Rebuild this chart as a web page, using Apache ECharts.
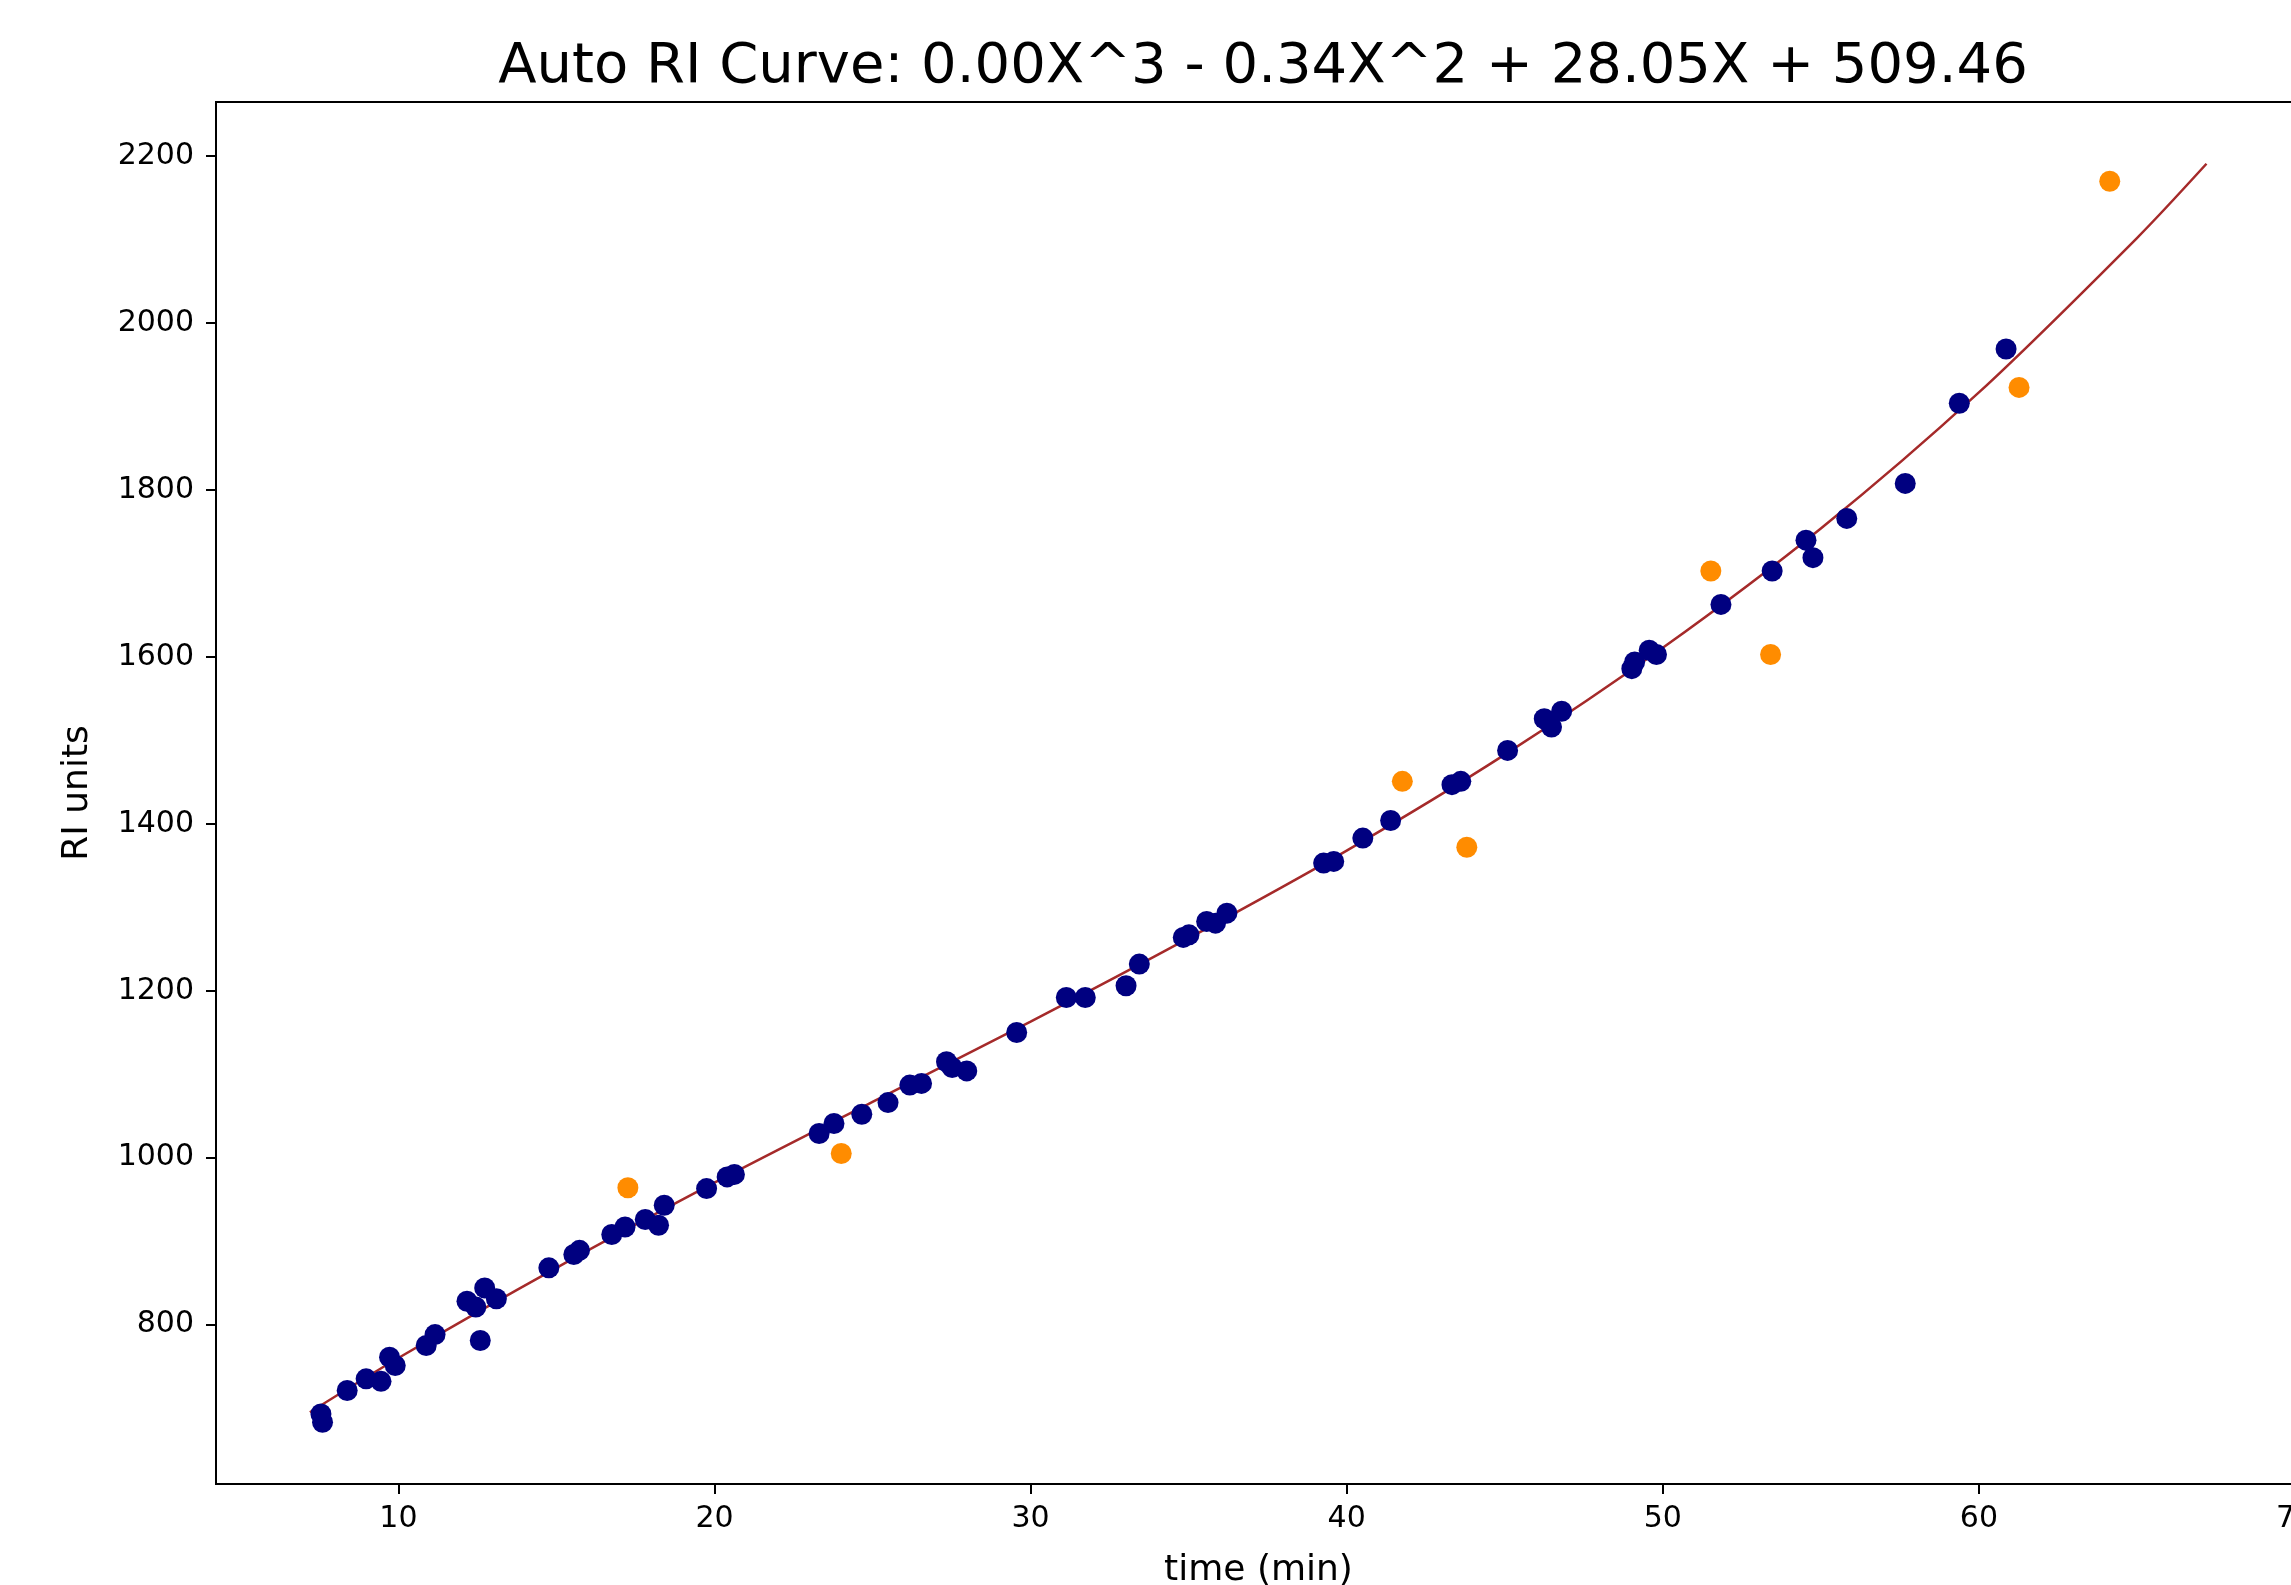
<!DOCTYPE html>
<html>
<head>
<meta charset="utf-8">
<script src="https://cdn.jsdelivr.net/npm/echarts@6/dist/echarts.min.js"></script>
<style>
  html, body { margin: 0; padding: 0; background: #fff; overflow: hidden; }
  #chart { width: 2291px; height: 1585px; }
</style>
</head>
<body>
<div id="chart"></div>
<script>
// retention time (min) and RI for the calibration compounds
const fitTimes = [7.55, 7.6, 8.38, 8.98, 9.45, 9.72, 9.9, 10.88, 11.16, 12.17, 12.45, 12.73, 12.59, 13.1,
  14.76, 15.55, 15.73, 16.75, 17.17, 17.81, 18.23, 18.41, 19.75, 20.4, 20.63, 23.31, 23.78, 24.66,
  25.49, 26.18, 26.55, 27.34, 27.52, 27.98, 29.56, 31.13, 31.73, 33.02, 33.44, 34.83, 35.01, 35.57,
  35.85, 36.21, 39.27, 39.59, 40.51, 41.39, 43.33, 43.61, 45.09, 46.25, 46.48, 46.8, 49.02, 49.11,
  49.57, 49.8, 51.84, 53.46, 54.53, 54.75, 55.82, 57.67, 59.38, 60.86];
const fitRI = [693, 683, 721, 735, 732, 761, 751, 775, 788, 828, 821, 844, 781, 831,
  868, 884, 889, 908, 917, 926, 919, 943, 963, 977, 980, 1029, 1041, 1052,
  1066, 1087, 1089, 1115, 1108, 1104, 1150, 1192, 1192, 1206, 1232, 1264, 1267, 1283,
  1281, 1293, 1353, 1355, 1383, 1404, 1447, 1451, 1488, 1526, 1516, 1535, 1586, 1594,
  1608, 1603, 1663, 1703, 1740, 1719, 1766, 1808, 1904, 1969];

// points left out of the fit
const outlierTimes = [17.26, 24.01, 41.76, 43.8, 51.52, 53.41, 61.27, 64.14];
const outlierRI = [964, 1005, 1451, 1372, 1703, 1603, 1923, 2170];

// fitted curve
const curveTimes = [7.2, 10, 15, 20, 25, 30, 35, 40, 45, 50, 55, 60, 65, 67.2];
const curveRI = [695, 760, 868, 970, 1067, 1163, 1263, 1368, 1483, 1611, 1754, 1917, 2102, 2191];

const xTicks = [10, 20, 30, 40, 50, 60, 70];
const yTicks = [800, 1000, 1200, 1400, 1600, 1800, 2000, 2200];

const titleText = 'Auto RI Curve: 0.00X^3 - 0.34X^2 + 28.05X + 509.46';

const font = 'DejaVu Sans';
const chart = echarts.init(document.getElementById('chart'));

const pairs = (xs, ys) => xs.map((x, i) => [x, ys[i]]);

chart.setOption({
  animation: false,
  backgroundColor: '#fff',
  title: {
    text: titleText,
    left: 1258,
    textAlign: 'center',
    top: 34,
    textStyle: { fontFamily: font, fontSize: 56, fontWeight: 'normal', color: '#000' }
  },
  grid: {
    left: 216, top: 102, width: 2085, height: 1382,
    outerBoundsMode: 'none',
    containLabel: false,
    show: true, borderColor: '#000', borderWidth: 2, backgroundColor: 'transparent'
  },
  xAxis: {
    type: 'value',
    min: 4.23,
    max: 70.19,
    name: 'time (min)',
    nameLocation: 'middle',
    nameGap: 69,
    nameTextStyle: { fontFamily: font, fontSize: 36, color: '#000' },
    axisLine: { show: true, onZero: false, lineStyle: { color: '#000', width: 2 } },
    axisTick: { show: true, length: 10, customValues: xTicks, lineStyle: { color: '#000', width: 2 } },
    axisLabel: { customValues: xTicks, margin: 20, fontFamily: font, fontSize: 30, color: '#000' },
    splitLine: { show: false }
  },
  yAxis: {
    type: 'value',
    min: 609,
    max: 2265,
    name: 'RI units',
    nameLocation: 'middle',
    nameGap: 120,
    nameRotate: 90,
    nameTextStyle: { fontFamily: font, fontSize: 36, color: '#000' },
    axisLine: { show: true, onZero: false, lineStyle: { color: '#000', width: 2 } },
    axisTick: { show: true, length: 10, customValues: yTicks, lineStyle: { color: '#000', width: 2 } },
    axisLabel: {
      customValues: yTicks, margin: 22, fontFamily: font, fontSize: 30, color: '#000',
      formatter: (v) => String(v)
    },
    splitLine: { show: false }
  },
  series: [
    {
      type: 'line',
      data: pairs(curveTimes, curveRI),
      smooth: 0.3,
      showSymbol: false,
      lineStyle: { color: '#a52a2a', width: 2.5 },
      z: 1
    },
    {
      type: 'scatter',
      data: pairs(fitTimes, fitRI),
      symbolSize: 21,
      itemStyle: { color: '#000080', opacity: 1 },
      z: 2
    },
    {
      type: 'scatter',
      data: pairs(outlierTimes, outlierRI),
      symbolSize: 21,
      itemStyle: { color: '#ff8c00', opacity: 1 },
      z: 2
    }
  ]
});
</script>
</body>
</html>
